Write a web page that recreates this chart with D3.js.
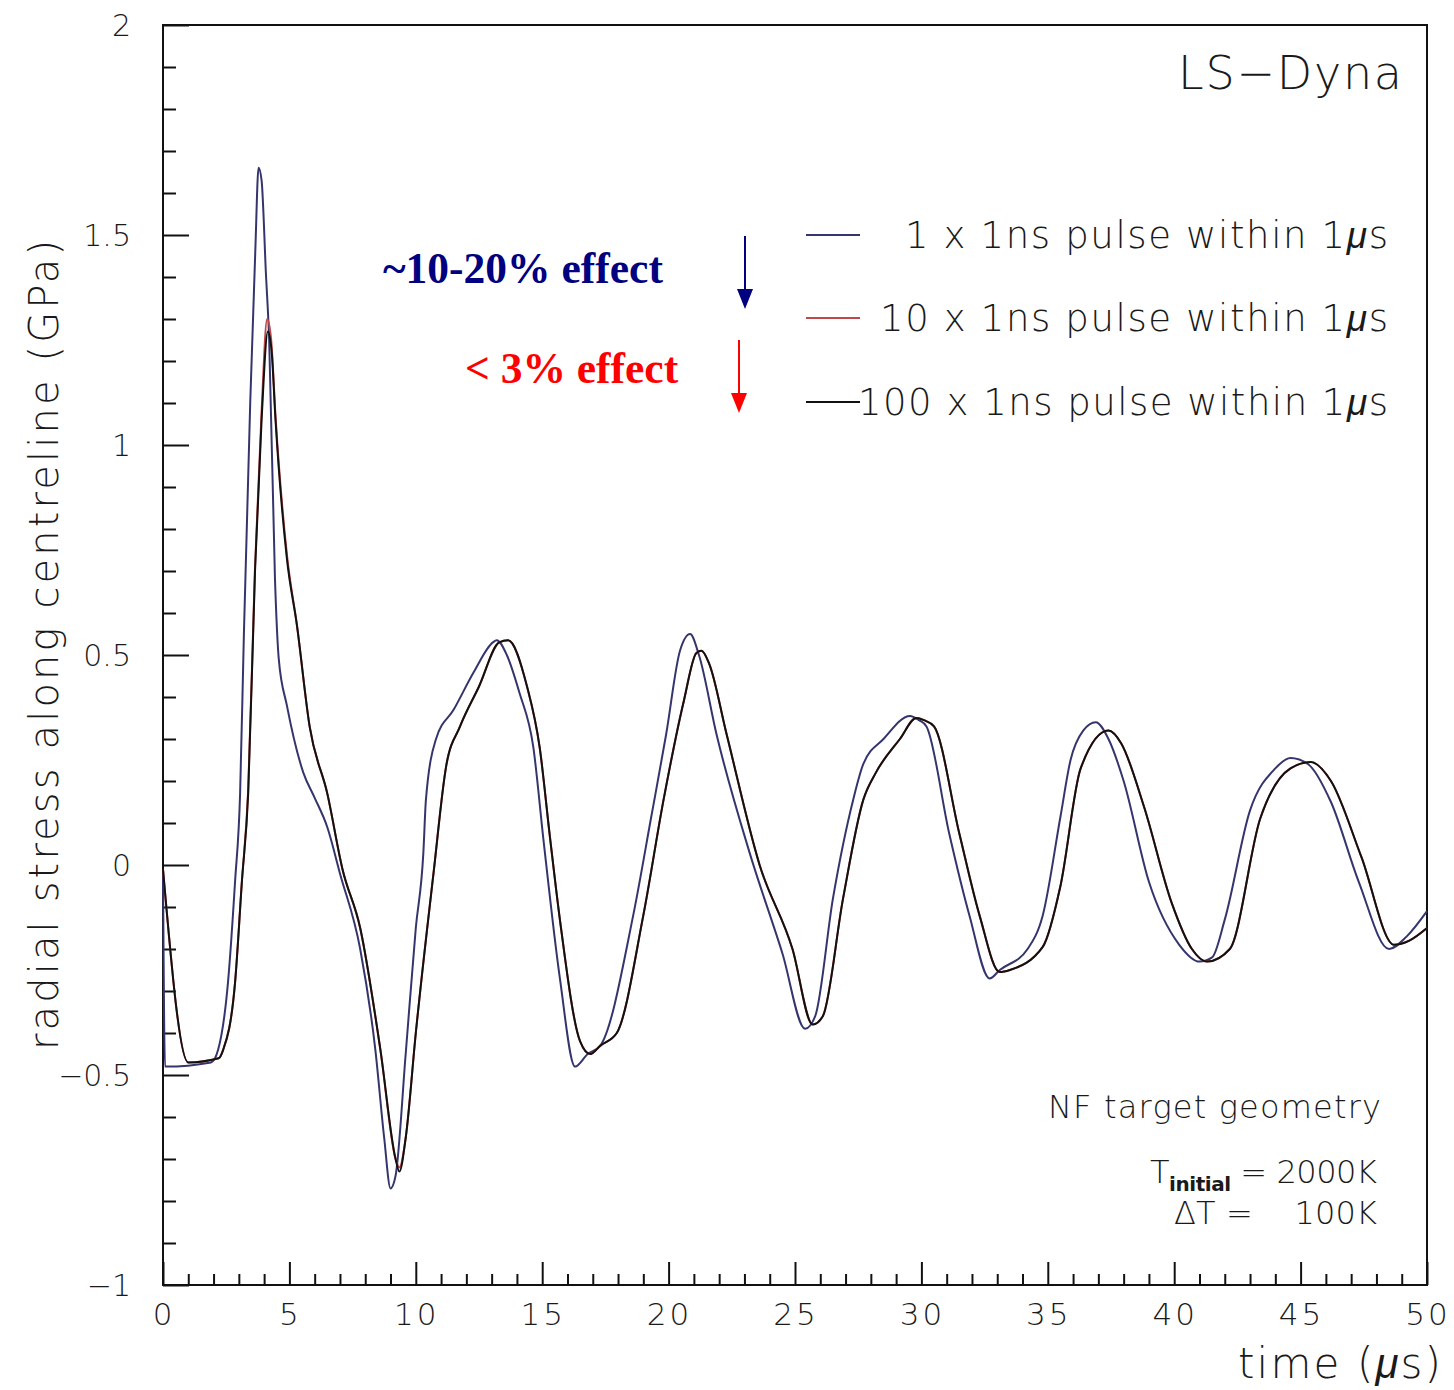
<!DOCTYPE html>
<html>
<head>
<meta charset="utf-8">
<script src="https://cdn.jsdelivr.net/npm/d3@7"></script>
<style>
  body { margin: 0; background: #fff; }
  text { font-family: "DejaVu Sans", "Liberation Sans", sans-serif; font-weight: 200; fill: #1a1a1a; }
  .mu { font-family: "Liberation Sans", sans-serif; font-style: italic; font-weight: normal; }
</style>
</head>
<body>
<div id="chart"></div>
<script>
var w = 1454, h = 1390;
var margin = {left: 163, top: 25, right: 27, bottom: 105};

// 1 x 1ns pulse (blue)
var tBlue = [0, 0.08, 1.9, 2.18, 2.57, 2.85, 3.05, 3.2, 3.45, 3.65, 3.78, 3.9, 4.07, 4.2, 4.43, 4.58, 4.9, 5.55, 6.0, 6.5, 7.0, 7.8, 8.4, 8.75, 9.0, 9.2, 9.6, 10.0, 10.3, 10.4, 10.8, 11.5, 12.3, 13.05, 13.2, 13.6, 14.1, 14.65, 15.05, 15.7, 16.3, 16.8, 17.3, 18.6, 19.3, 19.9, 20.45, 20.85, 21.2, 21.9, 23.2, 24.5, 25.4, 25.8, 26.5, 27.3, 27.7, 28.5, 29.55, 29.9, 30.2, 31.1, 31.9, 32.7, 33.1, 34.2, 34.8, 35.5, 35.9, 36.4, 36.9, 37.4, 38.0, 39.0, 40.2, 41.0, 41.5, 42.0, 43.0, 44.0, 44.6, 45.3, 46.2, 47.3, 48.5, 49.2, 50];
var vBlue = [-0.02, -0.48, -0.47, -0.44, -0.28, -0.04, 0.17, 0.55, 1.10, 1.46, 1.66, 1.63, 1.41, 1.25, 0.68, 0.49, 0.38, 0.22, 0.16, 0.09, -0.02, -0.20, -0.44, -0.65, -0.77, -0.74, -0.45, -0.15, 0.03, 0.155, 0.30, 0.37, 0.46, 0.53, 0.535, 0.50, 0.41, 0.28, 0.06, -0.27, -0.48, -0.45, -0.43, -0.12, 0.11, 0.31, 0.51, 0.55, 0.50, 0.31, 0.03, -0.21, -0.39, -0.36, -0.08, 0.155, 0.24, 0.30, 0.355, 0.345, 0.33, 0.075, -0.12, -0.27, -0.25, -0.20, -0.12, 0.115, 0.25, 0.32, 0.34, 0.30, 0.20, -0.04, -0.19, -0.23, -0.22, -0.13, 0.13, 0.23, 0.255, 0.24, 0.15, -0.04, -0.20, -0.17, -0.11];

// 10 x 1ns pulse (red)
var tRed = [0, 1.0, 2.2, 2.38, 2.85, 3.12, 3.37, 3.64, 3.9, 4.12, 4.28, 4.45, 4.9, 5.3, 5.8, 6.5, 7.1, 7.8, 8.6, 9.2, 9.35, 9.6, 10.0, 10.7, 11.2, 11.75, 12.5, 13.3, 13.65, 14.4, 14.9, 15.3, 15.7, 16.5, 16.9, 17.3, 17.95, 19.0, 19.8, 20.6, 21.1, 21.3, 21.6, 22.3, 23.6, 24.9, 25.7, 26.1, 26.9, 27.7, 28.2, 29.15, 29.8, 30.1, 30.5, 31.5, 32.3, 33.1, 33.5, 34.8, 35.5, 36.3, 37.4, 37.9, 38.8, 39.9, 40.7, 41.3, 42.2, 43.4, 44.6, 45.4, 46.2, 47.4, 48.7, 49.3, 50];
var vRed = [-0.01, -0.47, -0.46, -0.44, -0.28, -0.04, 0.18, 0.71, 1.08, 1.30, 1.25, 1.07, 0.74, 0.57, 0.33, 0.17, -0.01, -0.15, -0.44, -0.70, -0.72, -0.65, -0.40, -0.02, 0.235, 0.33, 0.425, 0.53, 0.535, 0.425, 0.28, 0.07, -0.13, -0.42, -0.45, -0.43, -0.40, -0.12, 0.155, 0.39, 0.505, 0.51, 0.48, 0.31, 0.0, -0.20, -0.38, -0.36, -0.08, 0.155, 0.22, 0.30, 0.35, 0.345, 0.33, 0.075, -0.12, -0.255, -0.25, -0.195, -0.05, 0.23, 0.32, 0.29, 0.14, -0.09, -0.20, -0.23, -0.20, 0.11, 0.23, 0.245, 0.20, 0.02, -0.19, -0.18, -0.15];

// 100 x 1ns pulse (black)
var tBlack = [0, 1.0, 2.2, 2.38, 2.85, 3.12, 3.37, 3.64, 3.9, 4.15, 4.3, 4.45, 4.9, 5.3, 5.8, 6.5, 7.1, 7.8, 8.6, 9.2, 9.35, 9.6, 10.0, 10.7, 11.2, 11.75, 12.5, 13.3, 13.65, 14.4, 14.9, 15.3, 15.7, 16.5, 16.9, 17.3, 17.95, 19.0, 19.8, 20.6, 21.1, 21.3, 21.6, 22.3, 23.6, 24.9, 25.7, 26.1, 26.9, 27.7, 28.2, 29.15, 29.8, 30.1, 30.5, 31.5, 32.3, 33.1, 33.5, 34.8, 35.5, 36.3, 37.4, 37.9, 38.8, 39.9, 40.7, 41.3, 42.2, 43.4, 44.6, 45.4, 46.2, 47.4, 48.7, 49.3, 50];
var vBlack = [-0.01, -0.47, -0.46, -0.44, -0.28, -0.04, 0.17, 0.70, 1.06, 1.27, 1.22, 1.06, 0.73, 0.57, 0.33, 0.17, -0.01, -0.15, -0.44, -0.70, -0.73, -0.65, -0.40, -0.02, 0.235, 0.33, 0.425, 0.53, 0.535, 0.425, 0.28, 0.07, -0.13, -0.42, -0.45, -0.43, -0.40, -0.12, 0.155, 0.39, 0.505, 0.51, 0.48, 0.31, 0.0, -0.20, -0.38, -0.36, -0.08, 0.155, 0.22, 0.30, 0.35, 0.345, 0.33, 0.075, -0.12, -0.255, -0.25, -0.195, -0.05, 0.23, 0.32, 0.29, 0.14, -0.09, -0.20, -0.23, -0.20, 0.11, 0.23, 0.245, 0.20, 0.02, -0.19, -0.18, -0.15];

var seriesNames = ["1 x 1ns pulse within 1", "10 x 1ns pulse within 1", "100 x 1ns pulse within 1"];
var seriesColors = ["#35356e", "#c04848", "#111111"];
var legendWidths = [483, 508, 530];

var xTicks = [0, 5, 10, 15, 20, 25, 30, 35, 40, 45, 50];
var yTicks = [-1, -0.5, 0, 0.5, 1, 1.5, 2];

var svg = d3.select("#chart").append("svg")
    .attr("width", w)
    .attr("height", h)

var x = d3.scaleLinear().domain([0, 50]).range([margin.left, w - margin.right]);
var y = d3.scaleLinear().domain([-1, 2]).range([h - margin.bottom, margin.top]);

// frame
svg.append("rect")
    .attr("x", x(0)).attr("y", y(2))
    .attr("width", x(50) - x(0)).attr("height", y(-1) - y(2))
    .attr("fill", "none").attr("stroke", "#111").attr("stroke-width", 2)

// x axis: major and minor ticks pointing inward
var xAxis = d3.axisBottom(x).tickValues(d3.range(0, 51, 1)).tickSize(-11).tickFormat("");
var gx = svg.append("g").attr("transform", "translate(0," + y(-1) + ")").call(xAxis);
gx.selectAll(".tick line").filter(function(d){ return d % 5 == 0; }).attr("y2", -23);
gx.selectAll("line").attr("stroke", "#111").attr("stroke-width", 2);
gx.select(".domain").remove();
svg.append("g").selectAll("text").data(xTicks).enter().append("text")
    .attr("x", function(d){ return x(d) + 1; })
    .attr("y", y(-1) + 40)
    .attr("text-anchor", "middle")
    .style("font-size", "31px")
    .style("letter-spacing", "3px")
    .text(function(d){ return d; });

var yAxis = d3.axisLeft(y).tickValues(d3.range(-10, 21, 1).map(function(d){ return d / 10; })).tickSize(-13).tickFormat("");
var gy = svg.append("g").attr("transform", "translate(" + x(0) + ",0)").call(yAxis);
gy.selectAll(".tick line").filter(function(d){ return Math.abs(d * 2 - Math.round(d * 2)) < 1e-6; }).attr("x2", 26);
gy.selectAll("line").attr("stroke", "#111").attr("stroke-width", 2);
gy.select(".domain").remove();
svg.append("g").selectAll("text").data(yTicks).enter().append("text")
    .attr("x", 131)
    .attr("y", function(d){ return y(d) + 11; })
    .attr("text-anchor", "end")
    .style("font-size", "30px")
    .text(function(d){ return d < 0 ? "\u2212" + Math.abs(d) : d; });

// axis titles
svg.append("text")
    .attr("transform", "translate(58," + 645 + ") rotate(-90)")
    .attr("text-anchor", "middle")
    .attr("textLength", 810)
    .style("font-size", "40px")
    .text("radial stress along centreline (GPa)");

var xt = svg.append("text")
    .attr("x", 1441).attr("y", 1378)
    .attr("text-anchor", "end")
    .attr("textLength", 203)
    .style("font-size", "42px");
xt.append("tspan").text("time (");
xt.append("tspan").attr("class", "mu").text("\u03bc");
xt.append("tspan").text("s)");

// curves
var line = d3.line()
    .x(function(d){ return x(d[0]); })
    .y(function(d){ return y(d[1]); })
    .curve(d3.curveMonotoneX);
var series = [d3.zip(tBlue, vBlue), d3.zip(tRed, vRed), d3.zip(tBlack, vBlack)];
svg.append("g").selectAll("path").data([0, 1, 2]).enter().append("path")
    .attr("d", function(i){ return line(series[i]); })
    .attr("fill", "none")
    .attr("stroke", function(i){ return seriesColors[i]; })
    .attr("stroke-width", 2)
    .attr("stroke-linejoin", "round");

// legend
var legendY = [235, 318, 402];
var lg = svg.append("g").selectAll("g").data(seriesNames).enter().append("g");
lg.append("line")
    .attr("x1", 806).attr("x2", 860)
    .attr("y1", function(d, i){ return legendY[i]; })
    .attr("y2", function(d, i){ return legendY[i]; })
    .attr("stroke", function(d, i){ return seriesColors[i]; })
    .attr("stroke-width", 2);
var lt = lg.append("text")
    .attr("x", 1388)
    .attr("y", function(d, i){ return legendY[i] + 13; })
    .attr("text-anchor", "end")
    .attr("textLength", function(d, i){ return legendWidths[i]; })
    .style("font-size", "37px");
lt.append("tspan").text(function(d){ return d; });
lt.append("tspan").attr("class", "mu").text("\u03bc");
lt.append("tspan").text("s");

svg.append("text")
    .attr("x", 1402).attr("y", 89)
    .attr("text-anchor", "end")
    .attr("textLength", 224)
    .style("font-size", "46px")
    .text("LS\u2212Dyna");

// annotations
svg.append("text")
    .attr("x", 383).attr("y", 283)
    .style("font-family", "'Liberation Serif', serif")
    .style("font-weight", "bold")
    .style("font-size", "43.5px")
    .style("fill", "#000080")
    .text("~10-20% effect");
svg.append("text")
    .attr("x", 465).attr("y", 383)
    .style("font-family", "'Liberation Serif', serif")
    .style("font-weight", "bold")
    .style("font-size", "43.5px")
    .style("fill", "#ff0000")
    .text("< 3% effect");

function arrow(ax, y0, y1, col) {
    svg.append("line")
        .attr("x1", ax).attr("x2", ax).attr("y1", y0).attr("y2", y1 - 15)
        .attr("stroke", col).attr("stroke-width", 2);
    svg.append("path")
        .attr("d", "M" + (ax - 8) + "," + (y1 - 20) + "L" + (ax + 8) + "," + (y1 - 20) + "L" + ax + "," + y1 + "Z")
        .attr("fill", col);
}
arrow(745, 236, 309, "#000080");
arrow(739, 340, 413, "#ff0000");

// bottom-right notes
svg.append("text")
    .attr("x", 1381).attr("y", 1118)
    .attr("text-anchor", "end")
    .attr("textLength", 333)
    .style("font-size", "32px")
    .text("NF target geometry");
var tn = svg.append("text")
    .attr("x", 1377).attr("y", 1183)
    .attr("text-anchor", "end")
    .attr("textLength", 227)
    .style("font-size", "32px");
tn.append("tspan").text("T");
tn.append("tspan").attr("dy", 8).style("font-size", "20px").style("font-weight", "bold").text("initial");
tn.append("tspan").attr("dy", -8).text(" = 2000K");
svg.append("text")
    .attr("x", 1377).attr("y", 1224)
    .attr("text-anchor", "end")
    .attr("textLength", 203)
    .style("font-size", "32px")
    .style("white-space", "pre")
    .text("\u0394T =    100K");
</script>
</body>
</html>
